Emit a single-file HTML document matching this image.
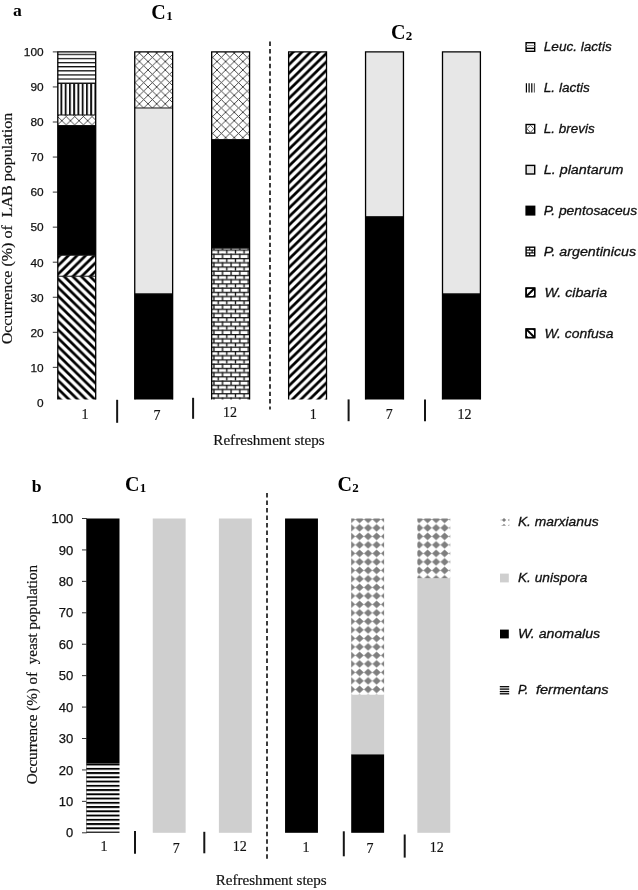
<!DOCTYPE html>
<html lang="en">
<head>
<meta charset="utf-8">
<title>Occurrence of LAB and yeast populations during refreshment steps</title>
<style>
html,body{margin:0;padding:0;background:#fff;}
body{width:638px;height:890px;overflow:hidden;}
svg{display:block;will-change:transform;}
text{white-space:pre;}
.tick{font-family:"Liberation Sans","DejaVu Sans",sans-serif;fill:#111;stroke:#111;stroke-width:0.25px;}
.leg{font-family:"Liberation Sans","DejaVu Sans",sans-serif;font-style:italic;fill:#111;stroke:#111;stroke-width:0.3px;}
.cat{font-family:"Liberation Serif","DejaVu Serif",serif;fill:#111;stroke:#111;stroke-width:0.18px;}
.ttl{font-family:"Liberation Serif","DejaVu Serif",serif;font-weight:bold;fill:#000;}
</style>
</head>
<body>
<svg width="638" height="890" viewBox="0 0 638 890">

<defs>
<pattern id="pH" patternUnits="userSpaceOnUse" x="0" y="49.61" width="8.62" height="4.12"><rect width="8.62" height="4.12" fill="#fff"/><rect x="0" y="0" width="8.62" height="1.25" fill="#111"/></pattern>
<pattern id="pV" patternUnits="userSpaceOnUse" x="60.45" y="0" width="4.25" height="8.45"><rect width="4.25" height="8.45" fill="#fff"/><rect x="0" y="0" width="1.9" height="8.45" fill="#111"/></pattern>
<pattern id="pX" patternUnits="userSpaceOnUse" x="1.5" y="2.4" width="8.62" height="8.45"><rect width="8.62" height="8.45" fill="#fff"/><path d="M0 0L8.62 8.45M8.62 0L0 8.45" stroke="#2a2a2a" stroke-width="0.85" stroke-linecap="square" fill="none"/></pattern>
<pattern id="pB" patternUnits="userSpaceOnUse" x="213.90" y="249.50" width="8.62" height="8.45"><rect width="8.62" height="8.45" fill="#fff"/><rect x="0" y="0" width="8.62" height="1.25" fill="#111"/><rect x="0" y="4.225" width="8.62" height="1.25" fill="#111"/><rect x="3.660" y="0" width="1.3" height="4.225" fill="#111"/><rect x="7.970" y="4.225" width="0.65" height="4.225" fill="#111"/><rect x="0" y="4.225" width="0.65" height="4.225" fill="#111"/></pattern>
<pattern id="pU" patternUnits="userSpaceOnUse" x="0" y="1.5" width="8.62" height="8.45"><rect width="8.62" height="8.45" fill="#fff"/><path d="M-8.62 8.45L8.62 -8.45M0 8.45L8.62 0M0 16.9L17.24 0" stroke="#000" stroke-width="2.7" fill="none"/></pattern>
<pattern id="pD" patternUnits="userSpaceOnUse" x="0" y="2.3" width="8.62" height="8.45"><rect width="8.62" height="8.45" fill="#fff"/><path d="M-8.62 0L8.62 16.9M0 0L8.62 8.45M0 -8.45L17.24 8.45" stroke="#000" stroke-width="2.7" fill="none"/></pattern>
<pattern id="pS" patternUnits="userSpaceOnUse" x="0" y="763.60" width="8" height="4.25"><rect width="8" height="4.25" fill="#fff"/><rect x="0" y="0" width="8" height="1.9" fill="#000"/></pattern>
<pattern id="pM" patternUnits="userSpaceOnUse" x="346.85" y="515.15" width="8.5" height="8.5"><rect width="8.5" height="8.5" fill="#fff"/><path d="M-0.2 4.25L0.9 3.65L4.25 0.53L7.6 3.65L8.7 4.25L7.6 4.85L4.25 7.97L0.9 4.85Z" fill="#7f7f7f"/></pattern>
</defs>
<!-- ================= panel a ================= -->
<g id="panel-a">
<text class="tick" x="43.6" y="406.70" font-size="11.8" text-anchor="end" textLength="6.6" lengthAdjust="spacingAndGlyphs">0</text>
<line x1="52.8" y1="367.35" x2="57.6" y2="367.35" stroke="#333" stroke-width="1"/>
<text class="tick" x="43.6" y="371.65" font-size="11.8" text-anchor="end" textLength="13.2" lengthAdjust="spacingAndGlyphs">10</text>
<line x1="52.8" y1="332.30" x2="57.6" y2="332.30" stroke="#333" stroke-width="1"/>
<text class="tick" x="43.6" y="336.60" font-size="11.8" text-anchor="end" textLength="13.2" lengthAdjust="spacingAndGlyphs">20</text>
<line x1="52.8" y1="297.25" x2="57.6" y2="297.25" stroke="#333" stroke-width="1"/>
<text class="tick" x="43.6" y="301.55" font-size="11.8" text-anchor="end" textLength="13.2" lengthAdjust="spacingAndGlyphs">30</text>
<line x1="52.8" y1="262.20" x2="57.6" y2="262.20" stroke="#333" stroke-width="1"/>
<text class="tick" x="43.6" y="266.50" font-size="11.8" text-anchor="end" textLength="13.2" lengthAdjust="spacingAndGlyphs">40</text>
<line x1="52.8" y1="227.15" x2="57.6" y2="227.15" stroke="#333" stroke-width="1"/>
<text class="tick" x="43.6" y="231.45" font-size="11.8" text-anchor="end" textLength="13.2" lengthAdjust="spacingAndGlyphs">50</text>
<line x1="52.8" y1="192.10" x2="57.6" y2="192.10" stroke="#333" stroke-width="1"/>
<text class="tick" x="43.6" y="196.40" font-size="11.8" text-anchor="end" textLength="13.2" lengthAdjust="spacingAndGlyphs">60</text>
<line x1="52.8" y1="157.05" x2="57.6" y2="157.05" stroke="#333" stroke-width="1"/>
<text class="tick" x="43.6" y="161.35" font-size="11.8" text-anchor="end" textLength="13.2" lengthAdjust="spacingAndGlyphs">70</text>
<line x1="52.8" y1="122.00" x2="57.6" y2="122.00" stroke="#333" stroke-width="1"/>
<text class="tick" x="43.6" y="126.30" font-size="11.8" text-anchor="end" textLength="13.2" lengthAdjust="spacingAndGlyphs">80</text>
<line x1="52.8" y1="86.95" x2="57.6" y2="86.95" stroke="#333" stroke-width="1"/>
<text class="tick" x="43.6" y="91.25" font-size="11.8" text-anchor="end" textLength="13.2" lengthAdjust="spacingAndGlyphs">90</text>
<line x1="52.8" y1="51.90" x2="57.6" y2="51.90" stroke="#333" stroke-width="1"/>
<text class="tick" x="43.6" y="56.20" font-size="11.8" text-anchor="end" textLength="19.8" lengthAdjust="spacingAndGlyphs">100</text>
<rect x="57.80" y="276.22" width="37.9" height="123.28" fill="url(#pD)"/>
<rect x="57.80" y="255.19" width="37.9" height="21.03" fill="url(#pU)"/>
<rect x="57.80" y="125.50" width="37.9" height="129.68" fill="#000"/>
<rect x="57.80" y="114.99" width="37.9" height="10.52" fill="url(#pX)"/>
<rect x="57.80" y="83.44" width="37.9" height="31.54" fill="url(#pV)"/>
<rect x="57.80" y="51.90" width="37.9" height="31.55" fill="url(#pH)"/>
<line x1="57.80" y1="276.22" x2="95.70" y2="276.22" stroke="#111" stroke-width="1"/>
<line x1="57.80" y1="255.19" x2="95.70" y2="255.19" stroke="#111" stroke-width="1"/>
<line x1="57.80" y1="125.50" x2="95.70" y2="125.50" stroke="#111" stroke-width="1"/>
<line x1="57.80" y1="114.99" x2="95.70" y2="114.99" stroke="#111" stroke-width="1"/>
<line x1="57.80" y1="83.44" x2="95.70" y2="83.44" stroke="#111" stroke-width="1"/>
<path d="M57.80 399.5L57.80 51.90L95.70 51.90L95.70 399.5" fill="none" stroke="#000" stroke-width="1.3"/>
<rect x="134.74" y="293.75" width="37.9" height="105.75" fill="#000"/>
<rect x="134.74" y="107.98" width="37.9" height="185.77" fill="#e7e7e7"/>
<rect x="134.74" y="51.90" width="37.9" height="56.08" fill="url(#pX)"/>
<line x1="134.74" y1="293.75" x2="172.64" y2="293.75" stroke="#111" stroke-width="1"/>
<line x1="134.74" y1="107.98" x2="172.64" y2="107.98" stroke="#111" stroke-width="1"/>
<path d="M134.74 399.5L134.74 51.90L172.64 51.90L172.64 399.5" fill="none" stroke="#000" stroke-width="1.3"/>
<rect x="211.68" y="248.18" width="37.9" height="151.32" fill="url(#pB)"/>
<rect x="211.68" y="139.52" width="37.9" height="108.66" fill="#000"/>
<rect x="211.68" y="51.90" width="37.9" height="87.62" fill="url(#pX)"/>
<line x1="211.68" y1="248.18" x2="249.58" y2="248.18" stroke="#111" stroke-width="1"/>
<line x1="211.68" y1="139.52" x2="249.58" y2="139.52" stroke="#111" stroke-width="1"/>
<path d="M211.68 399.5L211.68 51.90L249.58 51.90L249.58 399.5" fill="none" stroke="#000" stroke-width="1.3"/>
<rect x="288.62" y="51.90" width="37.9" height="347.60" fill="url(#pU)"/>
<path d="M288.62 399.5L288.62 51.90L326.52 51.90L326.52 399.5" fill="none" stroke="#000" stroke-width="1.3"/>
<rect x="365.56" y="216.63" width="37.9" height="182.87" fill="#000"/>
<rect x="365.56" y="51.90" width="37.9" height="164.74" fill="#e7e7e7"/>
<line x1="365.56" y1="216.63" x2="403.46" y2="216.63" stroke="#111" stroke-width="1"/>
<path d="M365.56 399.5L365.56 51.90L403.46 51.90L403.46 399.5" fill="none" stroke="#000" stroke-width="1.3"/>
<rect x="442.50" y="293.75" width="37.9" height="105.75" fill="#000"/>
<rect x="442.50" y="51.90" width="37.9" height="241.85" fill="#e7e7e7"/>
<line x1="442.50" y1="293.75" x2="480.40" y2="293.75" stroke="#111" stroke-width="1"/>
<path d="M442.50 399.5L442.50 51.90L480.40 51.90L480.40 399.5" fill="none" stroke="#000" stroke-width="1.3"/>
</g>
<line x1="270.0" y1="41.5" x2="270.0" y2="409.6" stroke="#3c3c3c" stroke-width="2" stroke-dasharray="4.45 3.0"/>
<line x1="117.15" y1="399.8" x2="117.15" y2="422.8" stroke="#151515" stroke-width="2"/>
<line x1="193.1" y1="397.8" x2="193.1" y2="418.8" stroke="#151515" stroke-width="2"/>
<line x1="348.6" y1="399.4" x2="348.6" y2="421.2" stroke="#151515" stroke-width="2"/>
<line x1="425.0" y1="399.4" x2="425.0" y2="421.2" stroke="#151515" stroke-width="2"/>
<text class="cat" x="85.1" y="419.3" font-size="14" text-anchor="middle">1</text>
<text class="cat" x="157.0" y="420.0" font-size="14" text-anchor="middle">7</text>
<text class="cat" x="229.9" y="417.0" font-size="14" text-anchor="middle">12</text>
<text class="cat" x="313.2" y="419.2" font-size="14" text-anchor="middle">1</text>
<text class="cat" x="389.3" y="419.2" font-size="14" text-anchor="middle">7</text>
<text class="cat" x="464.5" y="419.2" font-size="14" text-anchor="middle">12</text>
<text class="cat" x="213.3" y="445.2" font-size="14.2" textLength="111.4" lengthAdjust="spacingAndGlyphs">Refreshment steps</text>
<text class="cat" transform="translate(12.3 344.3) rotate(-90)" font-size="14.6" textLength="231.5" lengthAdjust="spacingAndGlyphs" xml:space="preserve">Occurrence (%) of  LAB population</text>
<text class="ttl" x="12.9" y="16.3" font-size="17.6">a</text>
<text class="ttl" x="151.3" y="18.8" font-size="20">C<tspan font-size="13" dx="0.4" dy="1.4">1</tspan></text>
<text class="ttl" x="391.1" y="39.4" font-size="20">C<tspan font-size="13" dx="0.2" dy="0.9">2</tspan></text>
<g id="legend-a">
<rect x="526.1" y="42.70" width="8.6" height="8.6" fill="#fff" stroke="#000" stroke-width="1.4"/>
<line x1="526.1" y1="45.60" x2="534.7" y2="45.60" stroke="#888" stroke-width="1.0"/>
<line x1="526.1" y1="48.40" x2="534.7" y2="48.40" stroke="#000" stroke-width="1.4"/>
<text class="leg" x="543.8" y="51.25" font-size="13.6" textLength="67.9" lengthAdjust="spacingAndGlyphs">Leuc. lactis</text>
<line x1="526.40" y1="83.30" x2="526.40" y2="92.50" stroke="#000" stroke-width="1.2"/>
<line x1="529.10" y1="83.30" x2="529.10" y2="92.50" stroke="#000" stroke-width="1.2"/>
<line x1="531.80" y1="83.30" x2="531.80" y2="92.50" stroke="#000" stroke-width="1.2"/>
<line x1="534.40" y1="83.30" x2="534.40" y2="92.50" stroke="#666" stroke-width="1.2"/>
<text class="leg" x="543.8" y="92.15" font-size="13.6" textLength="46.0" lengthAdjust="spacingAndGlyphs">L. lactis</text>
<rect x="526.1" y="124.50" width="8.6" height="8.6" fill="#fff" stroke="#000" stroke-width="1.4"/>
<path d="M530.40 125.30L533.90 128.80L530.40 132.30L526.90 128.80Z" fill="none" stroke="#444" stroke-width="0.9"/>
<text class="leg" x="543.8" y="133.05" font-size="13.6" textLength="50.8" lengthAdjust="spacingAndGlyphs">L. brevis</text>
<rect x="526.1" y="165.40" width="8.6" height="8.6" fill="#e4e4e4" stroke="#000" stroke-width="1.4"/>
<text class="leg" x="543.8" y="173.95" font-size="13.6" textLength="79.5" lengthAdjust="spacingAndGlyphs">L. plantarum</text>
<rect x="525.4" y="205.60" width="10.0" height="10.0" fill="#000"/>
<text class="leg" x="543.8" y="214.85" font-size="13.6" textLength="93.4" lengthAdjust="spacingAndGlyphs">P. pentosaceus</text>
<rect x="526.1" y="247.20" width="8.6" height="8.6" fill="#fff" stroke="#000" stroke-width="1.4"/>
<line x1="526.1" y1="250.10" x2="534.7" y2="250.10" stroke="#000" stroke-width="1.1"/>
<line x1="526.1" y1="252.90" x2="534.7" y2="252.90" stroke="#000" stroke-width="1.1"/>
<path d="M529.70 247.20v2.9M532.10 250.10v2.8M529.70 252.90v2.9" stroke="#000" stroke-width="1.1" fill="none"/>
<text class="leg" x="543.8" y="255.75" font-size="13.6" textLength="92.3" lengthAdjust="spacingAndGlyphs">P. argentinicus</text>
<rect x="526.1" y="288.10" width="8.6" height="8.6" fill="#fff" stroke="#000" stroke-width="1.4"/>
<path d="M526.50 296.30L534.30 288.50" stroke="#000" stroke-width="2.0"/>
<path d="M526.10 288.10h2.5l-2.5 2.5ZM534.70 296.70h-2.5l2.5 -2.5Z" fill="#000"/>
<rect x="526.1" y="288.10" width="8.6" height="8.6" fill="none" stroke="#000" stroke-width="1.4"/>
<text class="leg" x="544.4" y="296.65" font-size="13.6" textLength="62.7" lengthAdjust="spacingAndGlyphs">W. cibaria</text>
<rect x="526.1" y="329.00" width="8.6" height="8.6" fill="#fff" stroke="#000" stroke-width="1.4"/>
<path d="M526.50 329.40L534.30 337.20" stroke="#000" stroke-width="2.0"/>
<path d="M534.70 329.00h-2.5l2.5 2.5ZM526.10 337.60h2.5l-2.5 -2.5Z" fill="#000"/>
<rect x="526.1" y="329.00" width="8.6" height="8.6" fill="none" stroke="#000" stroke-width="1.4"/>
<text class="leg" x="544.4" y="337.55" font-size="13.6" textLength="69.2" lengthAdjust="spacingAndGlyphs">W. confusa</text>
</g>
<!-- ================= panel b ================= -->
<g id="panel-b">
<line x1="82.0" y1="832.80" x2="86.8" y2="832.80" stroke="#333" stroke-width="1"/>
<text class="tick" x="73.3" y="837.40" font-size="12.8" text-anchor="end" textLength="7.2" lengthAdjust="spacingAndGlyphs">0</text>
<line x1="82.0" y1="801.37" x2="86.8" y2="801.37" stroke="#333" stroke-width="1"/>
<text class="tick" x="73.3" y="805.97" font-size="12.8" text-anchor="end" textLength="14.5" lengthAdjust="spacingAndGlyphs">10</text>
<line x1="82.0" y1="769.94" x2="86.8" y2="769.94" stroke="#333" stroke-width="1"/>
<text class="tick" x="73.3" y="774.54" font-size="12.8" text-anchor="end" textLength="14.5" lengthAdjust="spacingAndGlyphs">20</text>
<line x1="82.0" y1="738.51" x2="86.8" y2="738.51" stroke="#333" stroke-width="1"/>
<text class="tick" x="73.3" y="743.11" font-size="12.8" text-anchor="end" textLength="14.5" lengthAdjust="spacingAndGlyphs">30</text>
<line x1="82.0" y1="707.08" x2="86.8" y2="707.08" stroke="#333" stroke-width="1"/>
<text class="tick" x="73.3" y="711.68" font-size="12.8" text-anchor="end" textLength="14.5" lengthAdjust="spacingAndGlyphs">40</text>
<line x1="82.0" y1="675.65" x2="86.8" y2="675.65" stroke="#333" stroke-width="1"/>
<text class="tick" x="73.3" y="680.25" font-size="12.8" text-anchor="end" textLength="14.5" lengthAdjust="spacingAndGlyphs">50</text>
<line x1="82.0" y1="644.22" x2="86.8" y2="644.22" stroke="#333" stroke-width="1"/>
<text class="tick" x="73.3" y="648.82" font-size="12.8" text-anchor="end" textLength="14.5" lengthAdjust="spacingAndGlyphs">60</text>
<line x1="82.0" y1="612.79" x2="86.8" y2="612.79" stroke="#333" stroke-width="1"/>
<text class="tick" x="73.3" y="617.39" font-size="12.8" text-anchor="end" textLength="14.5" lengthAdjust="spacingAndGlyphs">70</text>
<line x1="82.0" y1="581.36" x2="86.8" y2="581.36" stroke="#333" stroke-width="1"/>
<text class="tick" x="73.3" y="585.96" font-size="12.8" text-anchor="end" textLength="14.5" lengthAdjust="spacingAndGlyphs">80</text>
<line x1="82.0" y1="549.93" x2="86.8" y2="549.93" stroke="#333" stroke-width="1"/>
<text class="tick" x="73.3" y="554.53" font-size="12.8" text-anchor="end" textLength="14.5" lengthAdjust="spacingAndGlyphs">90</text>
<line x1="82.0" y1="518.50" x2="86.8" y2="518.50" stroke="#333" stroke-width="1"/>
<text class="tick" x="73.3" y="523.10" font-size="12.8" text-anchor="end" textLength="21.7" lengthAdjust="spacingAndGlyphs">100</text>
<line x1="86.6" y1="518.50" x2="86.6" y2="832.80" stroke="#333" stroke-width="0.8"/>
<rect x="86.60" y="763.65" width="32.9" height="69.15" fill="url(#pS)"/>
<rect x="86.60" y="518.50" width="32.9" height="245.15" fill="#000"/>
<rect x="152.75" y="518.50" width="32.9" height="314.30" fill="#cfcfcf"/>
<rect x="218.90" y="518.50" width="32.9" height="314.30" fill="#cfcfcf"/>
<rect x="285.05" y="518.50" width="32.9" height="314.30" fill="#000"/>
<rect x="351.20" y="754.22" width="32.9" height="78.58" fill="#000"/>
<rect x="351.20" y="694.51" width="32.9" height="59.72" fill="#cfcfcf"/>
<rect x="351.20" y="518.50" width="32.9" height="176.01" fill="url(#pM)"/>
<rect x="417.35" y="578.22" width="32.9" height="254.58" fill="#cfcfcf"/>
<rect x="417.35" y="518.50" width="32.9" height="59.72" fill="url(#pM)"/>
</g>
<line x1="267.0" y1="492.9" x2="267.0" y2="861.4" stroke="#3c3c3c" stroke-width="2" stroke-dasharray="4.5 3.03"/>
<line x1="135.0" y1="831.0" x2="135.0" y2="853.8" stroke="#151515" stroke-width="2"/>
<line x1="204.3" y1="831.8" x2="204.3" y2="853.3" stroke="#151515" stroke-width="2"/>
<line x1="343.8" y1="831.3" x2="343.8" y2="856.3" stroke="#151515" stroke-width="2"/>
<line x1="404.7" y1="834.5" x2="404.7" y2="857.6" stroke="#151515" stroke-width="2"/>
<text class="cat" x="104.0" y="850.8" font-size="14" text-anchor="middle">1</text>
<text class="cat" x="176.2" y="852.8" font-size="14" text-anchor="middle">7</text>
<text class="cat" x="239.8" y="850.6" font-size="14" text-anchor="middle">12</text>
<text class="cat" x="306.0" y="851.8" font-size="14" text-anchor="middle">1</text>
<text class="cat" x="370.0" y="853.0" font-size="14" text-anchor="middle">7</text>
<text class="cat" x="436.8" y="851.5" font-size="14" text-anchor="middle">12</text>
<text class="cat" x="215.8" y="885.2" font-size="14.2" textLength="110.9" lengthAdjust="spacingAndGlyphs">Refreshment steps</text>
<text class="cat" transform="translate(37.2 784.2) rotate(-90)" font-size="14.6" textLength="219.3" lengthAdjust="spacingAndGlyphs" xml:space="preserve">Occurrence (%) of  yeast population</text>
<text class="ttl" x="31.8" y="492.3" font-size="17.6">b</text>
<text class="ttl" x="124.9" y="490.9" font-size="20">C<tspan font-size="13" dx="0.3" dy="1.3">1</tspan></text>
<text class="ttl" x="337.5" y="490.9" font-size="20">C<tspan font-size="13" dx="0.2" dy="0.9">2</tspan></text>
<g id="legend-b">
<path d="M504 518.1L506.1 520L504 521.9L501.9 520Z" fill="#7f7f7f"/>
<path d="M504 523.8L506 525.8L500.7 525.8L502.4 525.2Z" fill="#8c8c8c"/>
<path d="M509.3 518.7L507.8 520L509.3 521.3ZM509.3 524.2L507.9 525.8L509.3 525.8Z" fill="#8c8c8c"/>
<path d="M500.4 519.6h1.6v0.8h-1.6Z" fill="#c8c8c8"/>
<text class="leg" x="517.9" y="526.30" font-size="13.6" textLength="80.7" lengthAdjust="spacingAndGlyphs" xml:space="preserve">K. marxianus</text>
<rect x="500.0" y="573.60" width="8.8" height="8.8" fill="#cfcfcf"/>
<text class="leg" x="517.9" y="582.30" font-size="13.6" textLength="69.4" lengthAdjust="spacingAndGlyphs" xml:space="preserve">K. unispora</text>
<rect x="500.0" y="629.60" width="8.8" height="8.8" fill="#000"/>
<text class="leg" x="517.9" y="638.30" font-size="13.6" textLength="82.3" lengthAdjust="spacingAndGlyphs" xml:space="preserve">W. anomalus</text>
<line x1="499.8" y1="686.70" x2="509.2" y2="686.70" stroke="#000" stroke-width="1.3"/>
<line x1="499.8" y1="689.10" x2="509.2" y2="689.10" stroke="#000" stroke-width="1.3"/>
<line x1="499.8" y1="691.55" x2="509.2" y2="691.55" stroke="#000" stroke-width="1.3"/>
<line x1="499.8" y1="693.80" x2="509.2" y2="693.80" stroke="#000" stroke-width="1.3"/>
<text class="leg" x="517.9" y="694.30" font-size="13.6" xml:space="preserve"><tspan textLength="10.4" lengthAdjust="spacingAndGlyphs">P.</tspan>  <tspan x="536.0" textLength="72.6" lengthAdjust="spacingAndGlyphs">fermentans</tspan></text>
</g>
</svg>
</body>
</html>
